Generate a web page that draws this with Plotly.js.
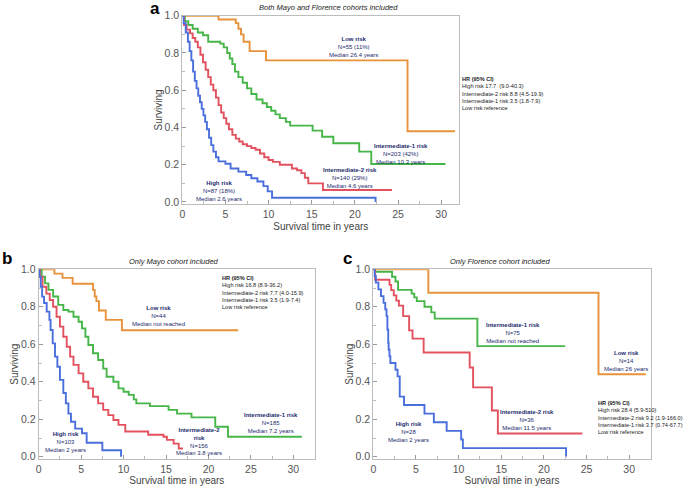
<!DOCTYPE html>
<html lang="en">
<head>
<meta charset="UTF-8">
<title>Survival by risk group</title>
<script src="https://cdn.plot.ly/plotly-3.0.1.min.js"></script>
<style>body{margin:0;background:#fff}</style>
</head>
<body>
<div id="plot"></div>
<script>
// ---- panel a: both cohorts ----
const aLowT = [0, 4.2, 6.2, 6.5, 6.8, 7.1, 7.8, 9.7, 26.1, 31.6];
const aLowS = [1, 0.98, 0.96, 0.93, 0.90, 0.86, 0.81, 0.76, 0.38, 0.38];
const aInt1T = [0, 0.3, 0.7, 1.2, 1.8, 2.4, 3.0, 4.4, 4.8, 5.2, 5.5, 5.8, 6.1, 6.5, 7.0, 7.5, 8.0, 8.6, 9.3, 9.8, 10.3, 10.8, 11.3, 12.0, 12.5, 15.1, 16.2, 17.5, 20.5, 21.9, 30.5];
const aInt1S = [1, 0.97, 0.95, 0.93, 0.91, 0.895, 0.86, 0.85, 0.83, 0.80, 0.77, 0.74, 0.70, 0.67, 0.64, 0.61, 0.58, 0.55, 0.53, 0.51, 0.49, 0.47, 0.45, 0.43, 0.41, 0.383, 0.35, 0.315, 0.27, 0.204, 0.204];
const aInt2T = [0, 0.2, 0.5, 0.9, 1.2, 1.5, 1.8, 2.1, 2.4, 2.7, 3.0, 3.3, 3.6, 3.9, 4.2, 4.5, 4.8, 5.1, 5.4, 5.8, 6.2, 6.6, 7.0, 7.5, 8.0, 8.5, 9.0, 9.5, 10.0, 10.5, 11.3, 12.7, 13.3, 13.8, 14.2, 14.6, 16.3, 24.3];
const aInt2S = [1, 0.95, 0.925, 0.905, 0.88, 0.86, 0.83, 0.79, 0.75, 0.71, 0.67, 0.63, 0.60, 0.56, 0.52, 0.48, 0.45, 0.42, 0.39, 0.36, 0.34, 0.325, 0.31, 0.30, 0.29, 0.28, 0.26, 0.24, 0.225, 0.215, 0.20, 0.18, 0.17, 0.155, 0.13, 0.10, 0.064, 0.064];
const aHighT = [0, 0.15, 0.4, 0.65, 0.85, 1.05, 1.25, 1.45, 1.65, 1.85, 2.05, 2.25, 2.45, 2.65, 2.85, 3.1, 3.35, 3.6, 3.9, 4.2, 5.0, 5.6, 6.5, 7.4, 8.0, 8.7, 9.4, 9.9, 10.4, 22.4, 22.4];
const aHighS = [1, 0.96, 0.91, 0.86, 0.81, 0.76, 0.70, 0.65, 0.61, 0.57, 0.535, 0.50, 0.465, 0.43, 0.39, 0.345, 0.305, 0.27, 0.24, 0.218, 0.205, 0.18, 0.163, 0.145, 0.127, 0.11, 0.085, 0.057, 0.023, 0.023, 0];

// ---- panel b: Mayo only ----
const bLowT = [0, 1.85, 2.8, 4.0, 6.4, 6.6, 6.8, 7.1, 7.9, 9.8, 23.5];
const bLowS = [1, 0.977, 0.954, 0.923, 0.89, 0.855, 0.83, 0.78, 0.73, 0.675, 0.675];
const bInt1T = [0, 0.35, 0.75, 1.15, 1.7, 2.3, 2.9, 3.5, 4.1, 4.7, 5.1, 5.5, 5.85, 6.4, 7.0, 7.6, 8.0, 8.8, 9.4, 10.0, 10.6, 11.2, 11.5, 13.1, 15.3, 16.3, 18.0, 20.8, 22.3, 31.0];
const bInt1S = [1, 0.96, 0.925, 0.89, 0.855, 0.81, 0.783, 0.774, 0.747, 0.72, 0.685, 0.64, 0.596, 0.552, 0.516, 0.47, 0.427, 0.40, 0.365, 0.347, 0.33, 0.306, 0.285, 0.27, 0.25, 0.23, 0.21, 0.16, 0.107, 0.107];
const bInt2T = [0, 0.15, 0.45, 0.9, 1.3, 1.7, 2.1, 2.5, 2.9, 3.3, 3.7, 4.1, 4.7, 5.25, 5.85, 6.4, 7.0, 7.6, 8.2, 8.8, 9.4, 10.2, 12.9, 14.7, 15.1, 15.9, 16.5, 17.0];
const bInt2S = [1, 0.96, 0.907, 0.87, 0.836, 0.80, 0.747, 0.694, 0.64, 0.587, 0.534, 0.49, 0.445, 0.40, 0.365, 0.32, 0.285, 0.25, 0.222, 0.196, 0.17, 0.135, 0.117, 0.107, 0.09, 0.07, 0.044, 0.044];
const bHighT = [0, 0.08, 0.24, 0.4, 0.63, 0.94, 1.26, 1.4, 1.65, 1.92, 2.2, 2.5, 2.9, 3.2, 3.5, 3.8, 4.3, 5.1, 5.65, 7.5, 9.7, 9.7];
const bHighS = [1, 0.96, 0.907, 0.854, 0.82, 0.774, 0.73, 0.676, 0.605, 0.534, 0.48, 0.41, 0.34, 0.285, 0.23, 0.187, 0.15, 0.125, 0.075, 0.035, 0.035, 0];

// ---- panel c: Florence only ----
const cLowT = [0, 6.45, 26.4, 31.95];
const cLowS = [1, 0.875, 0.44, 0.44];
const cInt1T = [0, 0.2, 2.2, 2.6, 2.9, 4.5, 4.8, 5.1, 6.0, 6.8, 7.2, 12.2, 22.5];
const cInt1S = [1, 0.987, 0.96, 0.935, 0.89, 0.87, 0.85, 0.83, 0.80, 0.77, 0.737, 0.59, 0.59];
const cInt2T = [0, 0.2, 1.9, 2.1, 2.4, 2.7, 3.0, 3.5, 4.2, 4.6, 5.9, 11.3, 11.7, 13.9, 14.6, 24.5];
const cInt2S = [1, 0.944, 0.917, 0.889, 0.861, 0.833, 0.806, 0.75, 0.674, 0.63, 0.556, 0.476, 0.370, 0.247, 0.124, 0.124];
const cHighT = [0, 0.15, 0.3, 0.6, 0.9, 1.2, 1.4, 1.55, 1.65, 1.75, 1.8, 1.9, 2.0, 2.6, 2.85, 3.1, 3.6, 6.0, 7.1, 8.6, 10.3, 10.5, 22.6, 22.6];
const cHighS = [1, 0.964, 0.929, 0.893, 0.857, 0.821, 0.786, 0.75, 0.679, 0.607, 0.571, 0.536, 0.50, 0.464, 0.429, 0.321, 0.276, 0.23, 0.184, 0.138, 0.092, 0.046, 0.046, 0];

const colLow = '#E8923B', colInt1 = '#47B649', colInt2 = '#E2515E', colHigh = '#4A6FDC';
const navy = '#1c2b6e';
const sans = 'Liberation Sans, Arial, sans-serif';

function km(x, y, color, ax) {
    return {
        x: x, y: y, type: 'scatter', mode: 'lines',
        line: { shape: 'hv', color: color, width: 1.9 },
        xaxis: 'x' + ax, yaxis: 'y' + ax, hoverinfo: 'skip', showlegend: false
    };
}

const traces = [
    km(aLowT, aLowS, colLow, ''), km(aInt1T, aInt1S, colInt1, ''),
    km(aInt2T, aInt2S, colInt2, ''), km(aHighT, aHighS, colHigh, ''),
    km(bLowT, bLowS, colLow, '2'), km(bInt1T, bInt1S, colInt1, '2'),
    km(bInt2T, bInt2S, colInt2, '2'), km(bHighT, bHighS, colHigh, '2'),
    km(cLowT, cLowS, colLow, '3'), km(cInt1T, cInt1S, colInt1, '3'),
    km(cInt2T, cInt2S, colInt2, '3'), km(cHighT, cHighS, colHigh, '3')
];
for (let i = 0; i < 4; i++) { traces[i].xaxis = 'x'; traces[i].yaxis = 'y'; }

const tickFont = { family: sans, size: 10.5, color: '#555' };
const titleFont = { family: sans, size: 10, color: '#444' };

function xax(domain, range, anchor) {
    return {
        domain: domain, range: range, anchor: anchor,
        tickvals: [0, 5, 10, 15, 20, 25, 30], ticks: 'inside', ticklen: 4, tickcolor: '#999',
        minor: { dtick: 2.5, ticks: 'inside', ticklen: 3, tickcolor: '#bbb' },
        showline: true, linecolor: '#bdbdbd', mirror: true, showgrid: false, zeroline: false,
        tickfont: tickFont,
        title: { text: 'Survival time in years', font: titleFont, standoff: 4 }
    };
}
function yax(domain, anchor) {
    return {
        domain: domain, range: [-0.012, 1.0], anchor: anchor,
        tickvals: [0, 0.2, 0.4, 0.6, 0.8, 1.0], tickformat: '.1f',
        ticks: 'inside', ticklen: 4, tickcolor: '#999',
        minor: { dtick: 0.1, ticks: 'inside', ticklen: 3, tickcolor: '#bbb' },
        showline: true, linecolor: '#bdbdbd', mirror: true, showgrid: false, zeroline: false,
        tickfont: tickFont,
        title: { text: 'Surviving', font: titleFont, standoff: 0 }
    };
}

function label(ax, x, y, head, lines) {
    return {
        xref: 'x' + ax, yref: 'y' + ax, x: x, y: y, showarrow: false,
        text: '<b>' + head + '</b><br>' + lines.join('<br>'),
        font: { family: sans, size: 6, color: navy },
        align: 'center', xanchor: 'center', yanchor: 'middle'
    };
}
function hrBlock(px, py, lines) {
    return {
        xref: 'paper', yref: 'paper', x: px, y: py, showarrow: false,
        text: '<b>HR (95% CI)</b><br>' + lines.join('<br>'),
        font: { family: sans, size: 5.6, color: '#222' },
        align: 'left', xanchor: 'left', yanchor: 'top', borderpad: 0
    };
}
function paperText(px, py, text, font) {
    return { xref: 'paper', yref: 'paper', x: px, y: py, showarrow: false, text: text, font: font, xanchor: 'center', yanchor: 'middle' };
}

const italic = { family: sans, size: 7.5, color: '#222' };
const letter = { family: sans, size: 17, color: '#000' };

const annotations = [
    label('', 19.8, 0.83, 'Low risk', ['N=55 (11%)', 'Median 26.4 years']),
    label('', 25.3, 0.26, 'Intermediate-1 risk', ['N=203 (42%)', 'Median 10.3 years']),
    label('', 19.4, 0.128, 'Intermediate-2 risk', ['N=140 (29%)', 'Median 4.6 years']),
    label('', 4.2, 0.06, 'High risk', ['N=87 (18%)', 'Median 2.6 years']),
    hrBlock(461 / 685, 1 - 75 / 486, ['High risk 17.7  (9.0-40.3)', 'Intermediate-2 risk 8.8 (4.5-19.9)', 'Intermediate-1 risk 3.5 (1.8-7.9)', 'Low risk reference']),

    label('2', 14.1, 0.75, 'Low risk', ['N=44', 'Median not reached']),
    label('2', 27.4, 0.18, 'Intermediate-1 risk', ['N=185', 'Median 7.2 years']),
    label('2', 18.9, 0.08, 'Intermediate-2<br>risk', ['N=156', 'Median 3.8 years']),
    label('2', 3.2, 0.08, 'High risk', ['N=103', 'Median 2 years']),
    hrBlock(221 / 685, 1 - 274 / 486, ['High risk 16.8 (8.9-36.2)', 'Intermediate-2 risk 7.7 (4.0-15.9)', 'Intermediate-1 risk 3.5 (1.9-7.4)', 'Low risk reference']),

    label('3', 16.4, 0.66, 'Intermediate-1 risk', ['N=75', 'Median not reached']),
    label('3', 29.6, 0.51, 'Low risk', ['N=14', 'Median 26 years']),
    label('3', 18.05, 0.196, 'Intermediate-2 risk', ['N=36', 'Median 11.5 years']),
    label('3', 4.1, 0.13, 'High risk', ['N=28', 'Median 2 years']),
    hrBlock(597 / 685, 1 - 399 / 486, ['High risk 28.4 (5.9-510)', 'Intermediate-2 risk 9.2 (1.9-166.0)', 'Intermediate-1 risk 3.7 (0.74-67.7)', 'Low risk reference']),

    paperText(328 / 685, 1 - 7.5 / 486, '<i>Both Mayo and Florence cohorts included</i>', italic),
    paperText(174 / 685, 1 - 261.5 / 486, '<i>Only Mayo cohort included</i>', italic),
    paperText(500 / 685, 1 - 261.5 / 486, '<i>Only Florence cohort included</i>', italic),
    paperText(155 / 685, 1 - 9 / 486, '<b>a</b>', letter),
    paperText(7 / 685, 1 - 258 / 486, '<b>b</b>', letter),
    paperText(347 / 685, 1 - 258 / 486, '<b>c</b>', letter)
];

const layout = {
    width: 685, height: 486, autosize: false,
    margin: { l: 0, r: 0, t: 0, b: 0 },
    paper_bgcolor: '#fff', plot_bgcolor: '#fff',
    showlegend: false,
    xaxis: xax([182.3 / 685, 459.3 / 685], [0, 32.1], 'y'),
    yaxis: yax([1 - 204.2 / 486, 1 - 15.7 / 486], 'x'),
    xaxis2: xax([38.7 / 685, 315 / 685], [0, 32.55], 'y2'),
    yaxis2: yax([1 - 459 / 486, 1 - 269.3 / 486], 'x2'),
    xaxis3: xax([373.3 / 685, 650.7 / 685], [0, 32.52], 'y3'),
    yaxis3: yax([1 - 459 / 486, 1 - 269.3 / 486], 'x3'),
    annotations: annotations
};

Plotly.newPlot('plot', traces, layout, { displayModeBar: false, staticPlot: true });
</script>
</body>
</html>
